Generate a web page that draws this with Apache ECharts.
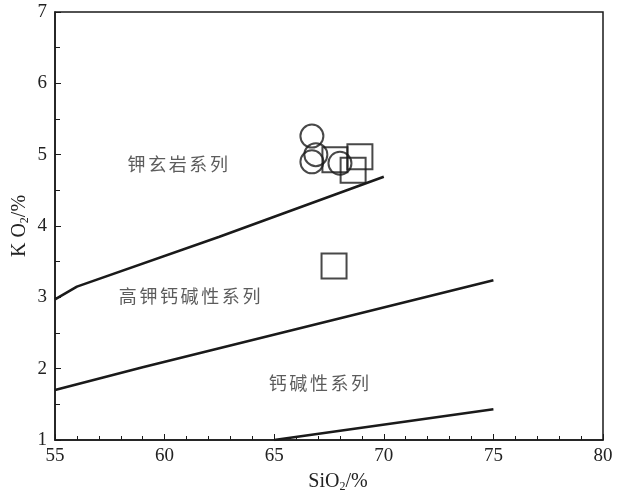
<!DOCTYPE html>
<html>
<head>
<meta charset="utf-8">
<script src="https://cdn.jsdelivr.net/npm/echarts@6/dist/echarts.min.js"></script>
<style>
  html, body { margin: 0; padding: 0; background: #fff; }
  #chart { width: 623px; height: 490px; }
</style>
</head>
<body>
<div id="chart"></div>
<script>
// boundary lines (SiO2, K2O)
const shoshoniteLine = [[55, 2.97], [56, 3.15], [62.5, 3.85], [70, 4.69]];
const highKLine = [[55, 1.7], [59, 2.02], [75, 3.24]];
const calcAlkLine = [[65, 1.0], [75, 1.43]];

// samples
const circleSamples = [[66.72, 5.26], [66.72, 4.9], [66.9, 5.0], [68.0, 4.88]];
const squareSamples = [[67.77, 4.93], [68.91, 4.97], [68.6, 4.78], [67.73, 3.44]];

// field names
const fieldNames = ['钾玄岩系列', '高钾钙碱性系列', '钙碱性系列'];
const fieldPos = [[60.6, 4.86], [61.14, 3.02], [67.04, 1.79]];

const serif = '"Liberation Serif", "DejaVu Serif", serif';
const cjk = '"Noto Sans CJK SC", sans-serif';

const lineStyle = { color: '#1a1a1a', width: 2.6 };

const makeLine = (data) => ({
  type: 'line',
  data: data,
  symbol: 'none',
  lineStyle: lineStyle,
  silent: true,
  z: 2
});

// spread the characters a little, like the printed figure
const spaced = (s) => s.split('').map(c => '{c|' + c + '}').join('');

const subRich = { sub: { fontFamily: serif, fontSize: 12, verticalAlign: 'bottom', padding: [11, 0, 0, 0], color: '#222' } };

const option = {
  animation: false,
  backgroundColor: '#fff',
  grid: {
    left: 55, right: 20, top: 12, bottom: 50,
    outerBoundsMode: 'none',
    containLabel: false,
    show: true, borderColor: '#1a1a1a', borderWidth: 1.5
  },
  xAxis: {
    type: 'value',
    min: 55, max: 80, interval: 5,
    name: 'SiO{sub|2}/%',
    nameLocation: 'middle',
    nameGap: 30,
    nameMoveOverlap: false,
    nameTextStyle: { fontFamily: serif, fontSize: 20, color: '#222', rich: subRich, padding: [0, 0, 0, 18] },
    axisLine: { lineStyle: { color: '#1a1a1a', width: 1.5 } },
    axisTick: { inside: true, length: 6, lineStyle: { color: '#1a1a1a' } },
    minorTick: { show: true, splitNumber: 5, length: 4, lineStyle: { color: '#1a1a1a' } },
    axisLabel: { fontFamily: serif, fontSize: 19, color: '#222', margin: 7 },
    splitLine: { show: false }
  },
  yAxis: {
    type: 'value',
    min: 1, max: 7, interval: 1,
    name: 'K O{sub|2}/%',
    nameLocation: 'middle',
    nameGap: 24,
    nameMoveOverlap: false,
    nameRotate: 90,
    nameTextStyle: { fontFamily: serif, fontSize: 20, color: '#222', rich: subRich },
    axisLine: { lineStyle: { color: '#1a1a1a', width: 1.5 } },
    axisTick: { inside: true, length: 6, lineStyle: { color: '#1a1a1a' } },
    minorTick: { show: true, splitNumber: 2, length: 5, lineStyle: { color: '#1a1a1a' } },
    axisLabel: { fontFamily: serif, fontSize: 19, color: '#222', margin: 8 },
    splitLine: { show: false }
  },
  series: [
    makeLine(shoshoniteLine),
    makeLine(highKLine),
    makeLine(calcAlkLine),
    {
      type: 'scatter',
      data: circleSamples,
      symbol: 'circle',
      symbolSize: 23,
      itemStyle: { color: 'rgba(255,255,255,0)', borderColor: '#1a1a1a', borderWidth: 2 },
      z: 3
    },
    {
      type: 'scatter',
      data: squareSamples,
      symbol: 'rect',
      symbolSize: 25,
      itemStyle: { color: 'rgba(255,255,255,0)', borderColor: '#1a1a1a', borderWidth: 2 },
      z: 3
    },
    {
      type: 'scatter',
      data: fieldPos.map((p, i) => ({ value: p, name: fieldNames[i] })),
      symbolSize: 0,
      silent: true,
      label: {
        show: true,
        position: 'inside',
        formatter: (p) => spaced(p.name),
        rich: {
          c: { fontFamily: cjk, fontSize: 18, color: '#333', padding: [0, 1.3] }
        }
      },
      z: 4
    }
  ]
};

const chart = echarts.init(document.getElementById('chart'));
chart.setOption(option);

window.addEventListener('resize', function () {
  chart.resize();
});
</script>
</body>
</html>
